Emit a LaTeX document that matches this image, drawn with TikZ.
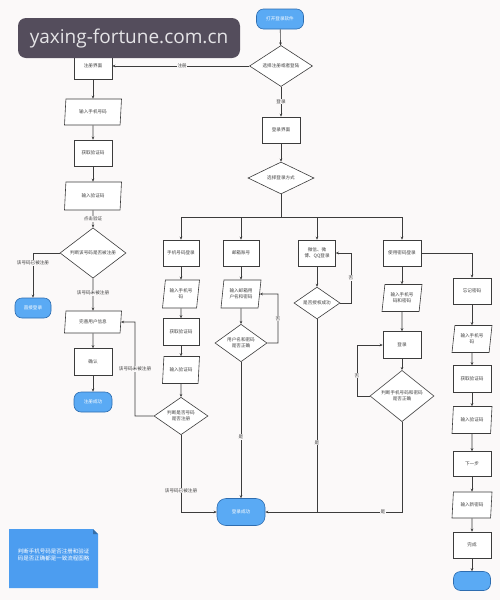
\documentclass[tikz,border=0pt]{standalone}
\usepackage{fontspec}
\newfontfamily\cjk{Noto Sans CJK SC}
\newfontfamily\wmfont{Open Sans}
\usetikzlibrary{shapes.geometric,arrows.meta,calc}
\definecolor{bgc}{HTML}{FBF9F9}
\definecolor{lnc}{HTML}{3C3C3C}
\definecolor{termf}{HTML}{5AAAF4}
\definecolor{termd}{HTML}{2E6DB0}
\definecolor{notef}{HTML}{4C9DF0}
\definecolor{wmbg}{HTML}{544D5C}
\tikzset{
  txt/.style={font=\cjk\fontsize{4.6}{5.6}\selectfont, text=black!75, align=center},
  box/.style={txt, rectangle, draw=lnc, line width=0.6pt, fill=white, minimum width=38pt, minimum height=26pt, inner sep=1pt},
  io/.style={txt, trapezium, trapezium left angle=75, trapezium right angle=105, trapezium stretches body, draw=lnc, line width=0.6pt, fill=white, minimum width=57pt, minimum height=26pt, inner sep=0.5pt},
  dec/.style={txt, diamond, draw=lnc, line width=0.6pt, fill=white, inner sep=0pt},
  term/.style={txt, text=white, rectangle, rounded corners=7pt, draw=termd, line width=0.6pt, fill=termf, minimum width=38pt, minimum height=20pt, inner sep=1pt},
  arr/.style={draw=lnc, line width=0.6pt, -{Stealth[length=3pt,width=2.6pt]}},
  ln/.style={draw=lnc, line width=0.6pt},
  lab/.style={txt, fill=bgc, inner sep=0.6pt}
}
\begin{document}
\begin{tikzpicture}[x=1pt,y=-1pt]
\useasboundingbox (0,0) rectangle (500,600);
\fill[bgc] (0,0) rectangle (500,600);

% top
\node[term, minimum width=47pt] (start) at (280,19) {打开登录软件};
\node[dec, minimum width=63pt, minimum height=36pt] (d1) at (281,66) {选择注册或者登陆};
\node[box] (reg) at (93,66) {注册界面};
\node[box] (login) at (281,130) {登录界面};
\node[dec, minimum width=66pt, minimum height=32pt] (d2) at (281,178) {选择登录方式};
\coordinate (j) at (281,217);

\draw[arr] (start) -- (d1);
\draw[arr] (d1.west) -- node[lab, pos=0.49] {注册} (reg.east);
\draw[arr] (d1.south) -- node[lab] {登录} (login.north);
\draw[arr] (login) -- (d2);
\draw[ln] (d2.south) -- (j);

% login methods
\node[box, minimum width=36pt] (m1) at (181,253) {手机号码登录};
\node[box, minimum width=36pt] (m2) at (241,253) {邮箱账号};
\node[box, minimum width=37pt] (m3) at (317,253) {微信、微\\博、QQ登录};
\node[box] (m4) at (402,253) {使用密码登录};
\draw[arr] (j) -| (m1.north);
\draw[arr] (j) -| (m4.north);
\draw[arr] (j -| m2) -- (m2.north);
\draw[arr] (j -| m3) -- (m3.north);

% register column
\node[io] (r1) at (93,112) {输入手机号码};
\node[box] (r2) at (93,153) {获取验证码};
\node[io, minimum height=28pt] (r3) at (93,196) {输入验证码};
\node[dec, minimum width=66pt, minimum height=30pt] (rd) at (93,253) {判断该号码是否被注册};
\node[term, minimum width=36pt] (rt1) at (33,308) {直接登录};
\node[io, minimum height=22pt] (r4) at (93,322) {完善用户信息};
\node[box, minimum height=27pt] (r5) at (93,362) {确认};
\node[term] (rt2) at (93,402) {注册成功};
\draw[arr] (reg) -- (r1);
\draw[arr] (r1) -- (r2);
\draw[arr] (r2) -- (r3);
\draw[arr] (r3) -- node[lab, pos=0.5] {点击验证} (rd.north);
\draw[arr] (rd.west) -| node[lab, pos=0.61] {该号码已被注册} (rt1.north);
\draw[arr] (rd.south) -- node[lab, pos=0.45] {该号码未被注册} (r4.north);
\draw[arr] (r4) -- (r5);
\draw[arr] (r5) -- (rt2);

% end terminal
\node[term, minimum width=48pt, minimum height=27pt, rounded corners=9pt] (end) at (241,512) {登录成功};

% column 1
\node[io, minimum width=37pt, minimum height=28pt] (a1) at (181,294) {输入手机号\\码};
\node[box, minimum width=36pt, minimum height=27pt] (a2) at (181,332) {获取验证码};
\node[io, minimum width=37pt, minimum height=27pt] (a3) at (181,370) {输入验证码};
\node[dec, minimum width=54pt, minimum height=33pt] (ad) at (181,416) {判断是否号码\\是否注册};
\draw[arr] (m1) -- (a1);
\draw[arr] (a1) -- (a2);
\draw[arr] (a2) -- (a3);
\draw[arr] (a3) -- (ad);
\coordinate (adl) at (135,416);
\draw[arr] (ad.west) -- (adl) -- node[lab, pos=0.5] {该号码未被注册} (adl |- r4) -- (r4.east);
\draw[arr] (ad.south) |- node[lab, pos=0.36] {该号码已被注册} (end.west);

% column 2
\node[io, minimum width=40pt, minimum height=28pt] (b1) at (241,294) {输入邮箱用\\户名和密码};
\node[dec, minimum width=52pt, minimum height=33pt] (bd) at (241,343) {用户名和密码\\是否正确};
\draw[arr] (m2) -- (b1);
\draw[arr] (b1) -- (bd);
\coordinate (bdr) at (278,343);
\draw[arr] (bd.east) -- (bdr) -- node[lab] {否} (bdr |- b1) -- (b1.east);
\draw[arr] (bd.south) -- node[lab, pos=0.55] {是} (end.north);

% column 3
\node[dec, minimum width=46pt, minimum height=27pt] (cd) at (317,303) {是否授权成功};
\draw[arr] (m3) -- (cd);
\coordinate (cdr) at (351,303);
\draw[arr] (cd.east) -- (cdr) -- node[lab] {否} (cdr |- m3) -- (m3.east);
\draw[ln] (cd.south) -- node[lab, pos=0.64] {是} (cd |- end);

% column 4
\node[io, minimum width=40pt, minimum height=27pt] (e1) at (402,298) {输入手机号\\码和密码};
\node[box, minimum height=27pt] (e2) at (402,345) {登录};
\node[dec, minimum width=64pt, minimum height=38pt] (ed) at (402,396) {判断手机号码和密码\\是否正确};
\draw[arr] (m4) -- (e1);
\draw[arr] (e1) -- (e2);
\draw[arr] (e2) -- (ed);
\coordinate (edl) at (357,396);
\draw[arr] (ed.west) -- (edl) -- node[lab, pos=0.4] {否} (edl |- e2) -- (e2.west);
\draw[arr] (ed.south) |- node[lab, pos=0.57] {是} (end.east);

% forgot password column
\node[box] (fp) at (472,291) {忘记密码};
\node[io, minimum width=40pt, minimum height=27pt] (f1) at (472,339) {输入手机号\\码};
\node[box, minimum height=27pt] (f2) at (472,379) {获取验证码};
\node[io, minimum width=40pt, minimum height=27pt] (f3) at (472,420) {输入验证码};
\node[box, minimum height=25pt] (f4) at (472,464) {下一步};
\node[io, minimum width=40pt, minimum height=26pt] (f5) at (472,505) {输入新密码};
\node[box] (f6) at (472,545) {完成};
\node[term, minimum width=37pt, minimum height=19pt] (ft) at (472,581) {};
\draw[arr] (m4.east) -| (fp.north);
\draw[arr] (fp) -- (f1);
\draw[arr] (f1) -- (f2);
\draw[arr] (f2) -- (f3);
\draw[arr] (f3) -- (f4);
\draw[arr] (f4) -- (f5);
\draw[arr] (f5) -- (f6);
\draw[arr] (f6) -- (ft);

% note
\fill[notef] (9,529) -- (93,529) -- (98,534) -- (98,588) -- (9,588) -- cycle;
\fill[notef!70!black] (93,529) -- (98,534) -- (93,534) -- cycle;
\node[txt, text=white, font=\cjk\fontsize{5.5}{7.5}\selectfont] (note) at (53.5,555) {判断手机号码是否注册和验证\\码是否正确都是一致流程图略};

% watermark
\fill[wmbg, rounded corners=8pt] (18,18) rectangle (240,58);
\node[font=\wmfont\fontsize{19}{22}\selectfont, text=white!85!wmbg] (wm) at (129,39) {yaxing-fortune.com.cn};
\end{tikzpicture}
\end{document}
